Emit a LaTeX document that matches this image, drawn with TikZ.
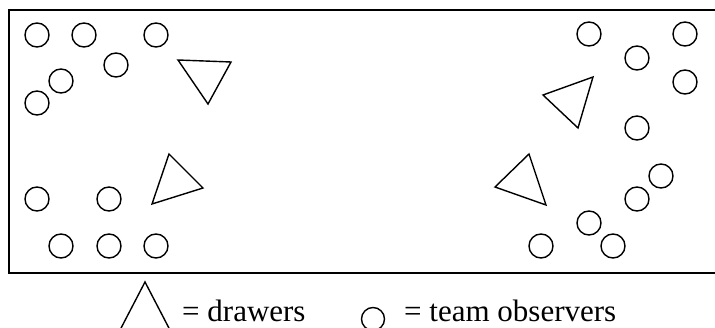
\documentclass[tikz,border=0pt]{standalone}
\usepackage{fontspec}
\setmainfont{Liberation Serif}
\begin{document}
\begin{tikzpicture}[x=1pt,y=-1pt,
  obs/.style={draw,circle,line width=1.4pt,minimum size=24pt,inner sep=0pt},
  drawer/.style={draw,line width=1.4pt,line join=miter},
  frame/.style={draw,line width=1.7pt},
  legend/.style={anchor=base west,inner sep=0pt,font=\fontsize{31}{36}\selectfont}]
\useasboundingbox (0,0) rectangle (715,328);
\clip (0,0) rectangle (715,328);
% field frame (right side runs off the picture)
\draw[frame] (730,10) -- (9,10) -- (9,273) -- (730,273);
% left team observers
\node[obs] (l1) at (37,35) {};
\node[obs] (l2) at (84,35) {};
\node[obs] (l3) at (156,35) {};
\node[obs] (l4) at (116,65) {};
\node[obs] (l5) at (61,81) {};
\node[obs] (l6) at (37,103) {};
\node[obs] (l7) at (37,199) {};
\node[obs] (l8) at (109,199) {};
\node[obs] (l9) at (61,246) {};
\node[obs] (l10) at (109,246) {};
\node[obs] (l11) at (156,246) {};
% right team observers
\node[obs] (r1) at (589,34) {};
\node[obs] (r2) at (637,58) {};
\node[obs] (r3) at (685,34) {};
\node[obs] (r4) at (685,82) {};
\node[obs] (r5) at (637,128) {};
\node[obs] (r6) at (661,176) {};
\node[obs] (r7) at (637,199) {};
\node[obs] (r8) at (589,223) {};
\node[obs] (r9) at (613,246) {};
\node[obs] (r10) at (541,246) {};
% drawers
\draw[drawer] (178,60) -- (231,62) -- (208,104) -- cycle;
\draw[drawer] (169,154) -- (203,188) -- (152,204) -- cycle;
\draw[drawer] (593,77) -- (543,95) -- (578,128) -- cycle;
\draw[drawer] (529,154) -- (495,187) -- (546,205) -- cycle;
% legend
\draw[drawer] (145,282) -- (119,332) -- (171,332) -- cycle;
\node[legend] (t1) at (182,322) {= drawers};
\node[obs,minimum size=23pt] (lc) at (373,319) {};
\node[legend] (t2) at (404,322) {= team observers};
\end{tikzpicture}
\end{document}
